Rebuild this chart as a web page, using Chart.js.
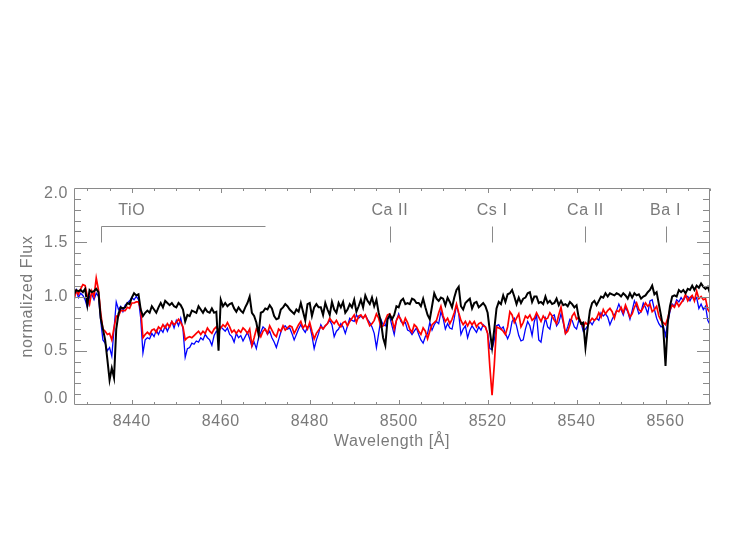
<!DOCTYPE html>
<html>
<head>
<meta charset="utf-8">
<title>normalized Flux</title>
<script src="https://cdn.jsdelivr.net/npm/chart.js@4.4.1/dist/chart.umd.min.js"></script>
<style>
  html, body { margin: 0; padding: 0; background: #fff; }
  #wrap { width: 747px; height: 540px; }
</style>
</head>
<body>
<div id="wrap"><canvas id="myChart" width="747" height="540"></canvas></div>
<script>
"use strict";

// #region Data
// spectra sampled every 0.5 A, starting at 8427.0 A
const lambdaStart = 8427.0;
const lambdaStep = 0.5;

const fluxBlack = [
  1.02, 1.06, 1.05, 1.06, 1.04, 1.07, 0.92, 1.06, 1.04, 1.05, 1.07, 1.04, 0.80, 0.70, 0.60, 0.42, 0.23, 0.34, 0.25, 0.70,
  0.84, 0.90, 0.89, 0.90, 0.94, 0.93, 0.99, 1.03, 1.01, 1.02, 0.88, 0.82, 0.85, 0.87, 0.85, 0.91, 0.88, 0.85, 0.90, 0.94,
  0.90, 0.96, 0.94, 0.92, 0.94, 0.91, 0.90, 0.94, 0.92,
  0.88, 0.77, 0.83, 0.82, 0.87, 0.86, 0.85, 0.91, 0.88, 0.85, 0.89, 0.86, 0.85, 0.89, 0.85, 0.86, 0.50, 0.97, 0.91, 0.94,
  0.91, 0.93, 0.94, 0.89, 0.86, 0.90, 0.87, 0.85, 0.90, 0.94, 1.00, 0.85, 0.82, 0.76, 0.65, 0.85, 0.86, 0.89, 0.88, 0.92,
  0.89, 0.82, 0.79, 0.80, 0.88, 0.90, 0.93, 0.91,
  0.88, 0.86, 0.84, 0.88, 0.86, 0.94, 0.86, 0.78, 0.93, 0.94, 0.82, 0.90, 0.93, 0.90, 0.90, 0.83, 0.94, 0.88, 0.83, 0.95,
  0.88, 0.85, 0.94, 0.90, 0.95, 0.85, 0.88, 0.93, 0.90, 0.97, 0.86, 0.91, 0.97, 0.90, 1.01, 0.96, 0.93, 0.99, 0.91, 0.97,
  0.85, 0.77, 0.62, 0.55, 0.79, 0.83, 0.79, 0.83,
  0.91, 0.90, 0.96, 0.98, 0.93, 0.94, 0.93, 0.98, 0.97, 0.94, 0.94, 0.91, 0.98, 0.90, 0.83, 0.79, 0.91, 1.03, 0.98, 0.96,
  0.99, 0.98, 0.92, 0.99, 0.95, 0.90, 0.99, 1.06, 1.09, 0.91, 0.88, 0.94, 0.96, 0.98, 0.89, 0.94, 0.95, 0.90, 0.92, 0.94,
  0.91, 0.85, 0.68, 0.53, 0.70, 0.89, 0.95, 0.93,
  1.01, 0.95, 1.02, 1.03, 1.06, 1.00, 0.93, 0.99, 0.94, 0.98, 0.99, 1.03, 1.04, 0.95, 1.00, 1.00, 0.94, 0.95, 0.93, 1.00,
  0.94, 0.96, 0.93, 0.94, 0.98, 0.92, 0.96, 0.92, 0.93, 0.91, 0.95, 0.93, 0.90, 0.92, 0.80, 0.75, 0.76, 0.53, 0.71, 0.87,
  0.94, 0.96, 0.92, 0.96, 1.00, 0.99, 1.03, 1.00,
  1.03, 1.02, 1.01, 1.03, 1.02, 1.00, 1.03, 1.01, 0.98, 1.03, 0.99, 1.03, 1.01, 1.02, 0.98, 1.00, 1.01, 1.04, 1.06, 1.10,
  1.02, 1.04, 0.93, 0.82, 0.70, 0.36, 0.76, 0.91, 1.00, 1.01, 1.00, 1.06, 1.04, 1.06, 1.03, 1.07, 1.06, 1.10, 1.06, 1.10,
  1.08, 1.12, 1.09, 1.07, 1.09, 1.03
];

const fluxRed = [
  0.97, 1.05, 1.02, 1.07, 1.11, 1.10, 1.00, 0.93, 1.05, 1.00, 1.17, 1.06, 0.85, 0.70, 0.68, 0.65, 0.66, 0.60, 0.71, 0.82,
  0.82, 0.87, 0.87, 0.87, 0.90, 0.89, 0.94, 0.94, 0.95, 0.95, 0.88, 0.62, 0.65, 0.67, 0.65, 0.69, 0.70, 0.67, 0.72, 0.70,
  0.74, 0.71, 0.75, 0.72, 0.77, 0.74, 0.76, 0.79, 0.76,
  0.72, 0.60, 0.62, 0.63, 0.62, 0.64, 0.66, 0.68, 0.65, 0.68, 0.66, 0.71, 0.68, 0.66, 0.70, 0.72, 0.69, 0.71, 0.74, 0.72,
  0.76, 0.72, 0.67, 0.69, 0.66, 0.69, 0.67, 0.71, 0.69, 0.66, 0.70, 0.55, 0.62, 0.70, 0.67, 0.63, 0.68, 0.70, 0.66, 0.73,
  0.69, 0.65, 0.63, 0.70, 0.68, 0.73, 0.69, 0.71,
  0.73, 0.72, 0.66, 0.70, 0.74, 0.77, 0.71, 0.74, 0.70, 0.76, 0.68, 0.61, 0.66, 0.69, 0.72, 0.70, 0.73, 0.75, 0.80, 0.77,
  0.75, 0.78, 0.74, 0.72, 0.76, 0.77, 0.73, 0.77, 0.80, 0.83, 0.76, 0.82, 0.83, 0.80, 0.83, 0.78, 0.73, 0.75, 0.78, 0.84,
  0.80, 0.72, 0.73, 0.78, 0.83, 0.84, 0.79, 0.70,
  0.78, 0.82, 0.79, 0.74, 0.80, 0.76, 0.70, 0.67, 0.74, 0.72, 0.68, 0.65, 0.71, 0.68, 0.61, 0.68, 0.74, 0.76, 0.78, 0.85,
  0.91, 0.82, 0.77, 0.80, 0.75, 0.79, 0.85, 0.93, 0.85, 0.78, 0.74, 0.77, 0.73, 0.77, 0.74, 0.77, 0.72, 0.75, 0.76, 0.73,
  0.72, 0.66, 0.35, 0.09, 0.37, 0.72, 0.71, 0.70,
  0.68, 0.65, 0.72, 0.86, 0.83, 0.76, 0.80, 0.84, 0.72, 0.76, 0.82, 0.80, 0.83, 0.78, 0.80, 0.85, 0.81, 0.77, 0.82, 0.79,
  0.80, 0.85, 0.82, 0.78, 0.75, 0.83, 0.90, 0.78, 0.66, 0.68, 0.74, 0.82, 0.85, 0.79, 0.81, 0.76, 0.72, 0.76, 0.74, 0.77,
  0.80, 0.78, 0.80, 0.85, 0.81, 0.88, 0.84, 0.87,
  0.89, 0.86, 0.80, 0.87, 0.86, 0.90, 0.85, 0.92, 0.87, 0.81, 0.84, 0.90, 0.94, 0.88, 0.86, 0.90, 0.94, 0.91, 0.93, 0.86,
  0.88, 0.91, 0.82, 0.78, 0.76, 0.74, 0.80, 0.88, 0.92, 0.90, 0.95, 0.91, 0.94, 0.97, 1.02, 0.96, 0.99, 1.01, 0.96, 1.05,
  0.98, 1.00, 0.97, 0.98, 0.88, 0.85
];

const fluxBlue = [
  1.00, 1.06, 0.99, 1.03, 1.01, 0.97, 0.90, 1.00, 1.02, 0.97, 1.03, 1.00, 0.78, 0.60, 0.57, 0.50, 0.53, 0.45, 0.70, 0.95,
  0.88, 0.91, 0.86, 0.92, 0.94, 0.96, 0.99, 0.97, 1.00, 0.97, 0.80, 0.48, 0.60, 0.62, 0.61, 0.66, 0.63, 0.69, 0.65, 0.70,
  0.67, 0.73, 0.68, 0.73, 0.77, 0.71, 0.78, 0.73, 0.80,
  0.70, 0.44, 0.52, 0.53, 0.57, 0.56, 0.59, 0.58, 0.62, 0.60, 0.65, 0.62, 0.60, 0.55, 0.64, 0.68, 0.66, 0.72, 0.70, 0.68,
  0.71, 0.65, 0.63, 0.58, 0.66, 0.62, 0.64, 0.59, 0.63, 0.67, 0.61, 0.54, 0.58, 0.52, 0.62, 0.67, 0.72, 0.70, 0.65, 0.68,
  0.62, 0.58, 0.53, 0.60, 0.67, 0.72, 0.73, 0.70,
  0.71, 0.66, 0.60, 0.65, 0.70, 0.74, 0.70, 0.67, 0.72, 0.73, 0.64, 0.52, 0.60, 0.66, 0.74, 0.70, 0.73, 0.75, 0.78, 0.74,
  0.63, 0.68, 0.70, 0.75, 0.72, 0.66, 0.73, 0.80, 0.78, 0.77, 0.83, 0.80, 0.82, 0.80, 0.83, 0.79, 0.76, 0.72, 0.66, 0.53,
  0.66, 0.79, 0.74, 0.73, 0.80, 0.81, 0.73, 0.65,
  0.78, 0.84, 0.77, 0.75, 0.76, 0.69, 0.68, 0.65, 0.68, 0.71, 0.65, 0.60, 0.57, 0.63, 0.66, 0.76, 0.69, 0.74, 0.77, 0.75,
  0.86, 0.80, 0.70, 0.75, 0.71, 0.70, 0.80, 0.92, 0.84, 0.65, 0.70, 0.73, 0.62, 0.69, 0.73, 0.70, 0.67, 0.72, 0.69, 0.74,
  0.72, 0.66, 0.52, 0.51, 0.60, 0.73, 0.74, 0.70,
  0.72, 0.66, 0.61, 0.66, 0.77, 0.80, 0.73, 0.64, 0.59, 0.60, 0.70, 0.77, 0.73, 0.64, 0.77, 0.83, 0.60, 0.58, 0.71, 0.80,
  0.72, 0.70, 0.82, 0.83, 0.73, 0.76, 0.84, 0.76, 0.66, 0.72, 0.79, 0.78, 0.72, 0.70, 0.78, 0.76, 0.68, 0.70, 0.73, 0.77,
  0.74, 0.78, 0.80, 0.78, 0.85, 0.82, 0.84, 0.81,
  0.74, 0.79, 0.83, 0.87, 0.93, 0.88, 0.83, 0.90, 0.86, 0.79, 0.87, 0.96, 0.91, 0.84, 0.86, 0.94, 0.90, 0.84, 0.96, 0.97,
  0.88, 0.80, 0.75, 0.72, 0.73, 0.64, 0.76, 0.86, 0.93, 0.91, 0.97, 0.95, 0.99, 0.96, 1.00, 1.00, 0.96, 1.00, 0.97, 0.99,
  0.89, 0.93, 0.88, 0.91, 0.78, 0.74
];

const xTickValues = [8440, 8460, 8480, 8500, 8520, 8540, 8560];
const yTickValues = [0.0, 0.5, 1.0, 1.5, 2.0];
const yTickLabels = ["0.0", "0.5", "1.0", "1.5", "2.0"];

const bandName = "TiO";
const bandRange = [8433, 8470];
const lineNames = ["Ca II", "Cs I", "Ca II", "Ba I"];
const lineWavelengths = [8498, 8521, 8542, 8560];
// #endregion

const axisColor = "#8a8a8a";
const textColor = "#7a7a7a";
const labelFont = "16px 'Liberation Sans', Arial, sans-serif";

function toPoints(values) {
  return values.map((v, i) => ({ x: lambdaStart + i * lambdaStep, y: v }));
}

// IDL-like frame: box, inward ticks on all four sides, labels and line markers
const idlFrame = {
  id: "idlFrame",
  afterDraw: function (chart) {
    const ctx = chart.ctx,
      area = chart.chartArea,
      xs = chart.scales.x,
      ys = chart.scales.y;
    const px = v => Math.round(xs.getPixelForValue(v)) + 0.5;
    const py = v => Math.round(ys.getPixelForValue(v)) + 0.5;
    const left = Math.round(area.left) + 0.5, right = Math.round(area.right) - 0.5,
      top = Math.round(area.top) + 0.5, bottom = Math.round(area.bottom) - 0.5;

    ctx.save();
    ctx.strokeStyle = axisColor;
    ctx.lineWidth = 1;
    ctx.beginPath();
    ctx.rect(left, top, right - left, bottom - top);

    // x ticks, minor every 5 A
    for (let v = Math.ceil(xs.min / 5) * 5; v <= xs.max; v += 5) {
      const len = xTickValues.includes(v) ? 4.5 : 2.5, x = px(v);
      ctx.moveTo(x, bottom); ctx.lineTo(x, bottom - len);
      ctx.moveTo(x, top); ctx.lineTo(x, top + len);
    }
    // y ticks, minor every 0.1
    for (let i = 1; i < 20; i++) {
      const len = i % 5 === 0 ? 12.5 : 6.5, y = py(i / 10);
      ctx.moveTo(left, y); ctx.lineTo(left + len, y);
      ctx.moveTo(right, y); ctx.lineTo(right - len, y);
    }

    // band bracket and line markers
    const b0 = px(bandRange[0]), b1 = px(bandRange[1]);
    ctx.moveTo(b0, py(1.5)); ctx.lineTo(b0, py(1.65)); ctx.lineTo(b1, py(1.65));
    lineWavelengths.forEach(w => {
      ctx.moveTo(px(w), py(1.5)); ctx.lineTo(px(w), py(1.65));
    });
    ctx.stroke();

    ctx.fillStyle = textColor;
    ctx.font = labelFont;
    ctx.letterSpacing = "0.6px";
    ctx.textAlign = "center";
    ctx.textBaseline = "middle";
    ctx.fillText(bandName, xs.getPixelForValue(8440), ys.getPixelForValue(1.79));
    lineNames.forEach((name, i) => {
      ctx.fillText(name, xs.getPixelForValue(lineWavelengths[i]), ys.getPixelForValue(1.79));
    });

    // tick labels
    xTickValues.forEach(v => ctx.fillText(String(v), xs.getPixelForValue(v), area.bottom + 17));
    ctx.textAlign = "right";
    yTickValues.forEach((v, i) => {
      const y = Math.min(Math.max(ys.getPixelForValue(v), area.top + 6), area.bottom - 6);
      ctx.fillText(yTickLabels[i], area.left - 6, y);
    });

    // axis titles
    ctx.textAlign = "center";
    ctx.fillText("Wavelength [Å]", (area.left + area.right) / 2, area.bottom + 37);
    ctx.translate(28, (area.top + area.bottom) / 2);
    ctx.rotate(-Math.PI / 2);
    ctx.fillText("normalized Flux", 0, 0);
    ctx.restore();
  }
};

new Chart(document.getElementById("myChart"), {
  type: "line",
  data: {
    datasets: [
      { label: "black", data: toPoints(fluxBlack), borderColor: "#000000", borderWidth: 2 },
      { label: "red", data: toPoints(fluxRed), borderColor: "#ff0000", borderWidth: 1.7 },
      { label: "blue", data: toPoints(fluxBlue), borderColor: "#0000ff", borderWidth: 1.3 }
    ]
  },
  options: {
    responsive: false,
    animation: false,
    parsing: false,
    layout: { padding: { left: 74, right: 37, top: 188, bottom: 135 } },
    elements: {
      point: { radius: 0 },
      line: { tension: 0, fill: false }
    },
    plugins: {
      legend: { display: false },
      tooltip: { enabled: false }
    },
    scales: {
      x: { type: "linear", min: 8427, max: 8570, display: false },
      y: { type: "linear", min: 0, max: 2, display: false }
    }
  },
  plugins: [idlFrame]
});
</script>
</body>
</html>
